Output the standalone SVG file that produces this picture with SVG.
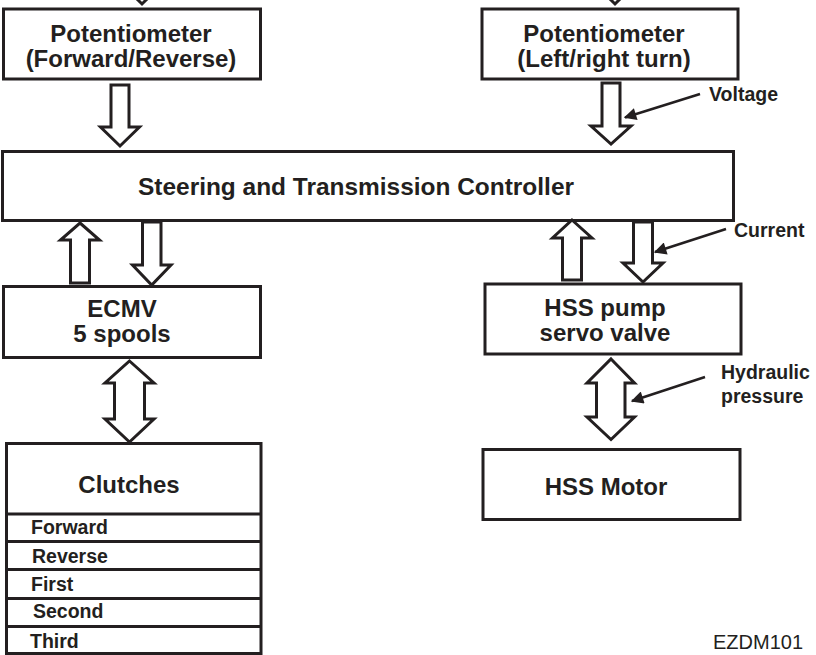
<svg xmlns="http://www.w3.org/2000/svg" width="816" height="655" viewBox="0 0 816 655">
<defs>
<style>
.box{fill:#fff;stroke:#231f20;stroke-width:3}
.lbl{font-family:"Liberation Sans",Arial,sans-serif;font-weight:bold;font-size:24px;fill:#231f20;text-anchor:middle}
.sm{font-family:"Liberation Sans",Arial,sans-serif;font-weight:bold;font-size:19.5px;fill:#231f20}
.ar{fill:#fff;stroke:#231f20;stroke-width:3;stroke-linejoin:miter}
.ptr{fill:none;stroke:#231f20;stroke-width:2.5}
.div{stroke:#231f20;stroke-width:3}
</style>
<marker id="ah" viewBox="0 0 10 10" refX="9" refY="5" markerWidth="7" markerHeight="5" markerUnits="strokeWidth" orient="auto">
<path d="M0,0 L10,5 L0,10 z" fill="#231f20"/>
</marker>
</defs>
<rect width="816" height="655" fill="#fff"/>

<g id="pot-fr">
<rect class="box" x="3.5" y="9" width="257" height="70"/>
<text class="lbl" x="131" y="42">Potentiometer</text>
<text class="lbl" x="131" y="67">(Forward/Reverse)</text>
</g>
<g id="pot-lr">
<rect class="box" x="482" y="9" width="256" height="70"/>
<text class="lbl" x="604" y="42">Potentiometer</text>
<text class="lbl" x="604" y="67">(Left/right turn)</text>
</g>
<g id="controller">
<rect class="box" x="2.5" y="151.5" width="731" height="69"/>
<text class="lbl" x="356" y="195" textLength="436" lengthAdjust="spacingAndGlyphs">Steering and Transmission Controller</text>
</g>
<g id="ecmv">
<rect class="box" x="3.5" y="286.5" width="257" height="71"/>
<text class="lbl" x="122" y="317">ECMV</text>
<text class="lbl" x="122" y="342">5 spools</text>
</g>
<g id="hss-pump">
<rect class="box" x="485" y="284" width="256" height="70"/>
<text class="lbl" x="605" y="316">HSS pump</text>
<text class="lbl" x="605" y="341">servo valve</text>
</g>
<g id="hss-motor">
<rect class="box" x="483" y="449.5" width="257" height="70"/>
<text class="lbl" x="606" y="495">HSS Motor</text>
</g>
<g id="clutches">
<rect class="box" x="6.5" y="443.5" width="254.5" height="210"/>
<text class="lbl" x="129" y="493">Clutches</text>
<line class="div" x1="6.5" y1="514" x2="261" y2="514"/>
<line class="div" x1="6.5" y1="541.5" x2="261" y2="541.5"/>
<line class="div" x1="6.5" y1="569.5" x2="261" y2="569.5"/>
<line class="div" x1="6.5" y1="598.5" x2="261" y2="598.5"/>
<line class="div" x1="6.5" y1="626.5" x2="261" y2="626.5"/>
<text class="sm" x="31" y="534">Forward</text>
<text class="sm" x="32" y="563">Reverse</text>
<text class="sm" x="31" y="591">First</text>
<text class="sm" x="33" y="618">Second</text>
<text class="sm" x="30" y="648">Third</text>
</g>

<g id="connectors">
<polygon class="ar" points="134,-4 150,-4 142,4"/>
<polygon class="ar" points="607,-4 623,-4 615,4"/>
<polygon class="ar" points="111,85 129,85 129,127 139.5,127 120,146 100.5,127 111,127"/>
<polygon class="ar" points="602,83 620,83 620,126 631,126 611,144 591,126 602,126"/>
<polygon class="ar" points="80,223 99.5,240 89.5,240 89.5,283 70.5,283 70.5,240 60.5,240"/>
<polygon class="ar" points="142.5,222 161,222 161,265 171,265 151.7,285 132.5,265 142.5,265"/>
<polygon class="ar" points="572,220 592,238 581.5,238 581.5,280 562.5,280 562.5,238 552.5,238"/>
<polygon class="ar" points="633.5,222 652.5,222 652.5,263 663,263 643,282 623,263 633.5,263"/>
<polygon class="ar" points="129.5,361 154,383 144.5,383 144.5,419 154,419 129.5,442 105,419 114.5,419 114.5,383 105,383"/>
<polygon class="ar" points="611,359 634.5,383 625,383 625,417 634.5,417 611,439.5 587,417 596.5,417 596.5,383 587,383"/>
<line class="ptr" x1="700" y1="94" x2="625" y2="117.5" marker-end="url(#ah)"/>
<line class="ptr" x1="726" y1="229" x2="655" y2="252" marker-end="url(#ah)"/>
<line class="ptr" x1="705" y1="377" x2="632" y2="401" marker-end="url(#ah)"/>
</g>

<g id="labels">
<text class="sm" x="709" y="101">Voltage</text>
<text class="sm" x="734" y="237">Current</text>
<text class="sm" x="721" y="379">Hydraulic</text>
<text class="sm" x="721" y="403">pressure</text>
<text x="713" y="649" style="font-family:'Liberation Sans',Arial,sans-serif;font-size:20px;fill:#231f20">EZDM101</text>
</g>
</svg>
